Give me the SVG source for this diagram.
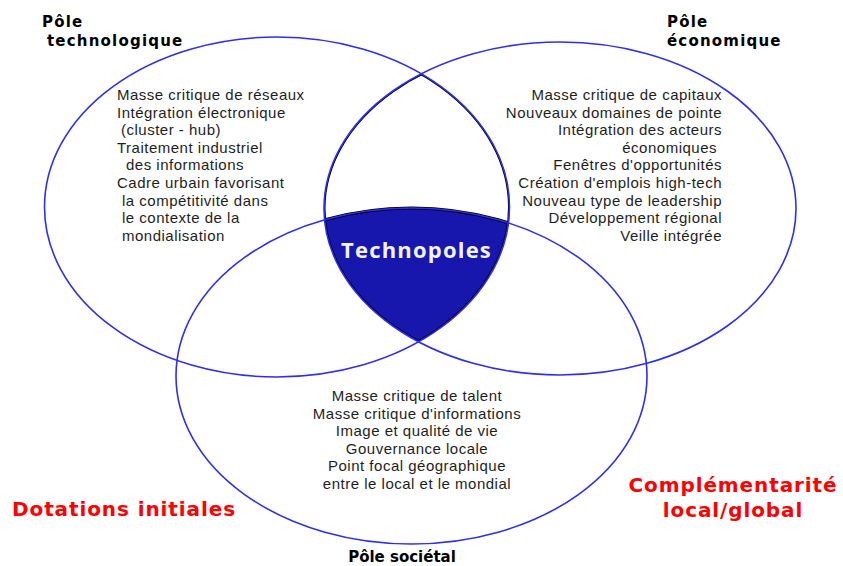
<svg xmlns="http://www.w3.org/2000/svg" width="843" height="566" viewBox="0 0 843 566">
<style>
.ring{fill:none;stroke:#2e2ef2;stroke-width:1.6}
.body{font-family:"Liberation Sans",Arial,sans-serif;font-size:15px;letter-spacing:0.5px;fill:#1e1e1e}
.title{font-family:"DejaVu Sans",Verdana,sans-serif;font-weight:bold;font-size:15px;letter-spacing:1.2px;fill:#000}
.red{font-family:"DejaVu Sans",Verdana,sans-serif;font-weight:bold;font-size:20px;letter-spacing:0.9px;fill:#ff0000}
.mid{text-anchor:middle}
.end{text-anchor:end}
</style>
<defs>
<clipPath id="cL"><ellipse cx="277" cy="207" rx="232.5" ry="170"/></clipPath>
<clipPath id="cR"><ellipse cx="560" cy="208.5" rx="236" ry="166.5"/></clipPath>
</defs>
<rect width="843" height="566" fill="#fff"/>

<g id="technopoles">
<g clip-path="url(#cL)"><g clip-path="url(#cR)">
<ellipse cx="411.5" cy="376" rx="235.5" ry="168" fill="#1717ad" stroke="#000" stroke-width="3"/>
<ellipse cx="277" cy="207" rx="232.5" ry="170" fill="none" stroke="#000" stroke-width="3"/>
<ellipse cx="560" cy="208.5" rx="236" ry="166.5" fill="none" stroke="#000" stroke-width="3"/>
</g></g>
<text x="416.5" y="258" class="mid" style="font-family:'Open Sans','DejaVu Sans',sans-serif;font-weight:bold;font-size:22px;letter-spacing:1.2px;fill:#f2f2f2">Technopoles</text>
</g>

<g id="pole-technologique">
<ellipse class="ring" cx="277" cy="207" rx="232.5" ry="170"/>
<text class="title" x="42" y="27">Pôle</text>
<text class="title" x="47" y="46">technologique</text>
<g class="body">
<text x="117" y="100">Masse critique de réseaux</text>
<text x="117" y="117.6">Intégration électronique</text>
<text x="121" y="135.2">(cluster - hub)</text>
<text x="117" y="152.8">Traitement industriel</text>
<text x="126" y="170.4">des informations</text>
<text x="117" y="188">Cadre urbain favorisant</text>
<text x="122" y="205.6">la compétitivité dans</text>
<text x="122" y="223.2">le contexte de la</text>
<text x="122" y="240.8">mondialisation</text>
</g>
</g>

<g id="pole-economique">
<ellipse class="ring" cx="560" cy="208.5" rx="236" ry="166.5"/>
<text class="title" x="667" y="27">Pôle</text>
<text class="title" x="667" y="46">économique</text>
<g class="body end">
<text x="722" y="100">Masse critique de capitaux</text>
<text x="722" y="117.6">Nouveaux domaines de pointe</text>
<text x="722" y="135.2">Intégration des acteurs</text>
<text x="717" y="152.8">économiques</text>
<text x="722" y="170.4">Fenêtres d'opportunités</text>
<text x="722" y="188">Création d'emplois high-tech</text>
<text x="722" y="205.6">Nouveau type de leadership</text>
<text x="722" y="223.2">Développement régional</text>
<text x="722" y="240.8">Veille intégrée</text>
</g>
</g>

<g id="pole-societal">
<ellipse class="ring" cx="411.5" cy="376" rx="235.5" ry="168"/>
<g class="body mid">
<text x="417" y="401">Masse critique de talent</text>
<text x="417" y="418.6">Masse critique d'informations</text>
<text x="417" y="436.2">Image et qualité de vie</text>
<text x="417" y="453.8">Gouvernance locale</text>
<text x="417" y="471.4">Point focal géographique</text>
<text x="417" y="489">entre le local et le mondial</text>
</g>
<text class="title mid" x="402" y="562" style="letter-spacing:0">Pôle sociétal</text>
</g>

<g id="labels">
<text class="red" x="12" y="516">Dotations initiales</text>
<text class="red mid" x="733" y="492">Complémentarité</text>
<text class="red mid" x="733" y="517">local/global</text>
</g>
</svg>
